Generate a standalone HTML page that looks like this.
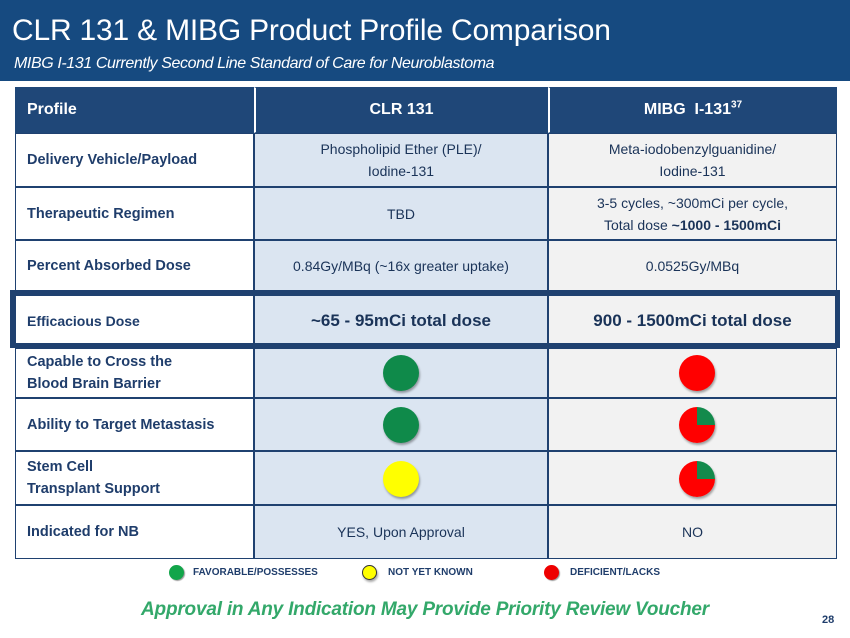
<!DOCTYPE html>
<html><head><meta charset="utf-8"><style>
body{margin:0;width:850px;height:638px;position:relative;background:#fff;font-family:"Liberation Sans",sans-serif;overflow:hidden}
.a{position:absolute}
.hdr{left:0;top:0;width:850px;height:81px;background:#164a80}
.t{left:12px;top:14px;color:#fff;font-size:30px;letter-spacing:-0.2px}
.st{left:14px;top:55px;color:#fff;font-size:16px;font-style:italic;letter-spacing:-0.4px}
.cell{position:absolute;box-sizing:border-box;display:flex;align-items:center;font-size:14px;color:#1a3358;line-height:22px;border:1.5px solid #1f4170}
.l{background:#fff;font-weight:bold;padding-left:11px;color:#1f3d6b;font-size:14.5px}
.c{background:#dbe5f1;justify-content:center;text-align:center}
.m{background:#f2f2f2;justify-content:center;text-align:center}
.h{background:#1f4778;color:#fff;font-weight:bold;font-size:16px;border-color:#1f4778}
.dot{position:absolute;border-radius:50%;width:36px;height:36px;box-shadow:1px 2px 2px rgba(0,0,0,.35)}
</style></head><body>
<div class="a hdr"></div>
<div class="a t">CLR 131 &amp; MIBG Product Profile Comparison</div>
<div class="a st">MIBG I-131 Currently Second Line Standard of Care for Neuroblastoma</div>

<div class="cell h" style="left:15px;top:87px;width:239px;height:46px;padding-left:11px">Profile</div>
<div class="cell h" style="left:254px;top:87px;width:294px;height:46px;justify-content:center;border-left:2px solid #fff">CLR 131</div>
<div class="cell h" style="left:548px;top:87px;width:289px;height:46px;justify-content:center;border-left:2px solid #fff"><div>MIBG&nbsp; I-131<sup style="font-size:10px;line-height:0">37</sup></div></div>

<div class="cell l" style="left:15px;top:133px;width:239px;height:54px">Delivery Vehicle/Payload</div>
<div class="cell c" style="left:254px;top:133px;width:294px;height:54px"><div>Phospholipid Ether (PLE)/<br>Iodine-131</div></div>
<div class="cell m" style="left:548px;top:133px;width:289px;height:54px"><div>Meta-iodobenzylguanidine/<br>Iodine-131</div></div>

<div class="cell l" style="left:15px;top:187px;width:239px;height:53px">Therapeutic Regimen</div>
<div class="cell c" style="left:254px;top:187px;width:294px;height:53px">TBD</div>
<div class="cell m" style="left:548px;top:187px;width:289px;height:53px"><div>3-5 cycles, ~300mCi per cycle,<br>Total dose <b>~1000 - 1500mCi</b></div></div>

<div class="cell l" style="left:15px;top:240px;width:239px;height:52px">Percent Absorbed Dose</div>
<div class="cell c" style="left:254px;top:240px;width:294px;height:52px">0.84Gy/MBq (~16x greater uptake)</div>
<div class="cell m" style="left:548px;top:240px;width:289px;height:52px">0.0525Gy/MBq</div>

<div class="cell l" style="left:15px;top:295px;width:239px;height:51px;font-weight:bold;font-size:14px">Efficacious Dose</div>
<div class="cell c" style="left:254px;top:295px;width:294px;height:51px;font-weight:bold;font-size:17px">~65 - 95mCi total dose</div>
<div class="cell m" style="left:548px;top:295px;width:289px;height:51px;font-weight:bold;font-size:17px">900 - 1500mCi total dose</div>
<div class="a" style="left:10px;top:290px;width:830px;height:58px;box-sizing:border-box;border:5px solid #1f4170"></div>

<div class="cell l" style="left:15px;top:348px;width:239px;height:50px"><div>Capable to Cross the<br>Blood Brain Barrier</div></div>
<div class="cell c" style="left:254px;top:348px;width:294px;height:50px"></div>
<div class="cell m" style="left:548px;top:348px;width:289px;height:50px"></div>

<div class="cell l" style="left:15px;top:398px;width:239px;height:53px">Ability to Target Metastasis</div>
<div class="cell c" style="left:254px;top:398px;width:294px;height:53px"></div>
<div class="cell m" style="left:548px;top:398px;width:289px;height:53px"></div>

<div class="cell l" style="left:15px;top:451px;width:239px;height:54px"><div>Stem Cell<br>Transplant Support</div></div>
<div class="cell c" style="left:254px;top:451px;width:294px;height:54px"></div>
<div class="cell m" style="left:548px;top:451px;width:289px;height:54px"></div>

<div class="cell l" style="left:15px;top:505px;width:239px;height:54px">Indicated for NB</div>
<div class="cell c" style="left:254px;top:505px;width:294px;height:54px">YES, Upon Approval</div>
<div class="cell m" style="left:548px;top:505px;width:289px;height:54px">NO</div>

<div class="dot" style="left:383px;top:355px;background:#0f8a4a"></div>
<div class="dot" style="left:679px;top:355px;background:#ff0000"></div>
<div class="dot" style="left:383px;top:407px;background:#0f8a4a"></div>
<div class="dot" style="left:679px;top:407px;background:conic-gradient(#138a4c 0 25%,#ff0000 25% 100%)"></div>
<div class="dot" style="left:383px;top:461px;background:#ffff00"></div>
<div class="dot" style="left:679px;top:461px;background:conic-gradient(#138a4c 0 25%,#ff0000 25% 100%)"></div>

<div class="dot" style="left:169px;top:565px;width:15px;height:15px;background:#12a54a;box-shadow:1px 1px 1px rgba(0,0,0,.4)"></div>
<div class="a" style="left:193px;top:567px;font-size:10px;font-weight:bold;color:#1f3d6b">FAVORABLE/POSSESSES</div>
<div class="dot" style="left:362px;top:565px;width:15px;height:15px;background:#ffff00;border:1px solid #333;box-sizing:border-box"></div>
<div class="a" style="left:388px;top:567px;font-size:10px;font-weight:bold;color:#1f3d6b">NOT YET KNOWN</div>
<div class="dot" style="left:544px;top:565px;width:15px;height:15px;background:#ee0000;box-shadow:1px 1px 1px rgba(0,0,0,.4)"></div>
<div class="a" style="left:570px;top:567px;font-size:10px;font-weight:bold;color:#1f3d6b">DEFICIENT/LACKS</div>

<div class="a" style="left:0;width:850px;top:599px;text-align:center;font-size:19px;font-weight:bold;font-style:italic;color:#33a86a;letter-spacing:-0.2px">Approval in Any Indication May Provide Priority Review Voucher</div>
<div class="a" style="left:822px;top:614px;font-size:11px;font-weight:bold;color:#1f3d6b">28</div>
</body></html>
